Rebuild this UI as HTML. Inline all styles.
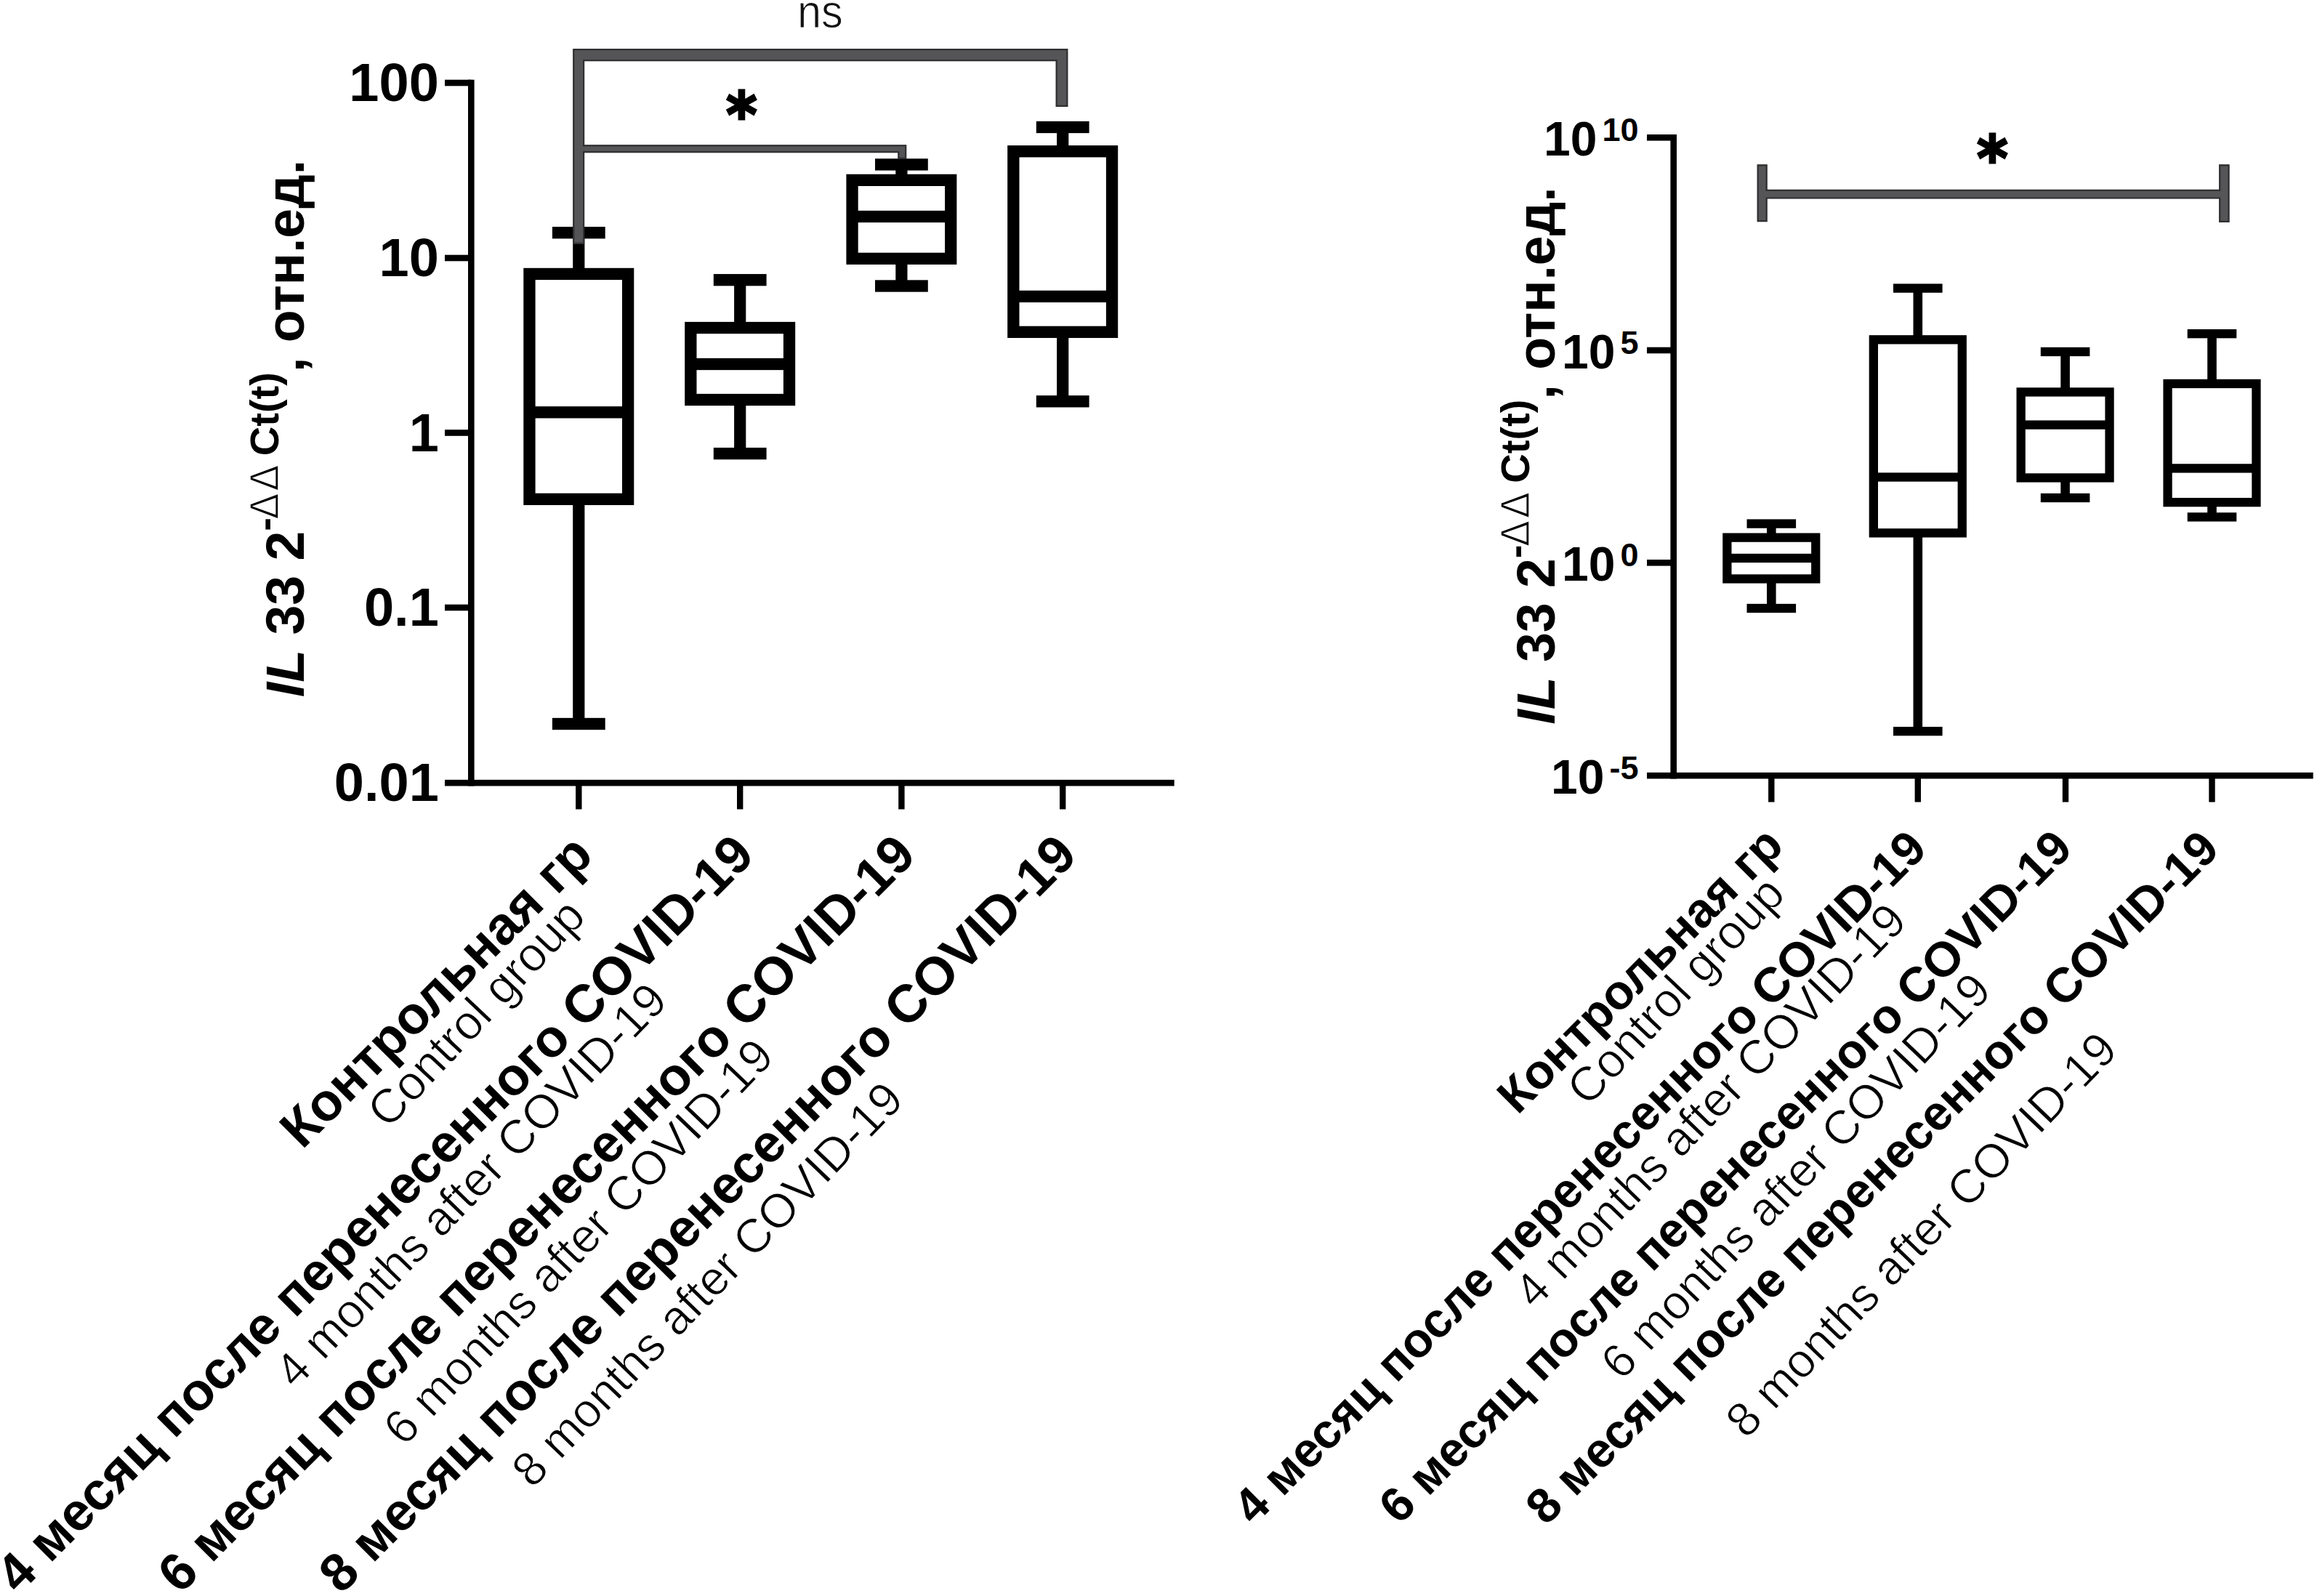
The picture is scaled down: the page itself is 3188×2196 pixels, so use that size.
<!DOCTYPE html>
<html lang="ru"><head><meta charset="utf-8"><title>IL 33 box plots</title>
<style>html,body{margin:0;padding:0;background:#fff}svg{display:block}</style></head>
<body>
<svg xmlns="http://www.w3.org/2000/svg" width="3188" height="2196" viewBox="0 0 3188 2196" font-family='"Liberation Sans", sans-serif'>
<rect width="3188" height="2196" fill="#fff"/>
<rect x="644.00" y="109.70" width="8.60" height="971.80" fill="#000"/>
<rect x="612.00" y="1072.90" width="1003.70" height="8.60" fill="#000"/>
<rect x="612.00" y="109.70" width="36.30" height="8.60" fill="#000"/>
<rect x="612.00" y="350.70" width="36.30" height="8.60" fill="#000"/>
<rect x="612.00" y="591.20" width="36.30" height="8.60" fill="#000"/>
<rect x="612.00" y="831.70" width="36.30" height="8.60" fill="#000"/>
<rect x="792.10" y="1077.20" width="8.40" height="36.30" fill="#000"/>
<rect x="1014.00" y="1077.20" width="8.40" height="36.30" fill="#000"/>
<rect x="1236.20" y="1077.20" width="8.40" height="36.30" fill="#000"/>
<rect x="1458.00" y="1077.20" width="8.40" height="36.30" fill="#000"/>
<text x="603.8" y="139.00" font-size="74" font-weight="bold" text-anchor="end">100</text>
<text x="603.8" y="380.00" font-size="74" font-weight="bold" text-anchor="end">10</text>
<text x="603.8" y="620.50" font-size="74" font-weight="bold" text-anchor="end">1</text>
<text x="603.8" y="861.00" font-size="74" font-weight="bold" text-anchor="end">0.1</text>
<text x="603.8" y="1102.20" font-size="74" font-weight="bold" text-anchor="end">0.01</text>
<rect x="788.20" y="320.20" width="16.20" height="56.75" fill="#000"/>
<rect x="788.20" y="686.85" width="16.20" height="309.15" fill="#000"/>
<rect x="759.90" y="312.05" width="72.80" height="16.30" fill="#000"/>
<rect x="759.90" y="987.85" width="72.80" height="16.30" fill="#000"/>
<rect x="728.45" y="376.95" width="135.70" height="309.90" fill="#fff" stroke="#000" stroke-width="16.3"/>
<rect x="728.45" y="559.15" width="135.70" height="16.30" fill="#000"/>
<rect x="1010.10" y="385.20" width="16.20" height="65.85" fill="#000"/>
<rect x="1010.10" y="550.05" width="16.20" height="74.05" fill="#000"/>
<rect x="981.80" y="377.05" width="72.80" height="16.30" fill="#000"/>
<rect x="981.80" y="615.95" width="72.80" height="16.30" fill="#000"/>
<rect x="950.35" y="451.05" width="135.70" height="99.00" fill="#fff" stroke="#000" stroke-width="16.3"/>
<rect x="950.35" y="492.85" width="135.70" height="16.30" fill="#000"/>
<rect x="1232.30" y="226.40" width="16.20" height="21.45" fill="#000"/>
<rect x="1232.30" y="355.85" width="16.20" height="37.65" fill="#000"/>
<rect x="1204.00" y="218.25" width="72.80" height="16.30" fill="#000"/>
<rect x="1204.00" y="385.35" width="72.80" height="16.30" fill="#000"/>
<rect x="1172.55" y="247.85" width="135.70" height="108.00" fill="#fff" stroke="#000" stroke-width="16.3"/>
<rect x="1172.55" y="289.85" width="135.70" height="16.30" fill="#000"/>
<rect x="1454.10" y="175.00" width="16.20" height="33.25" fill="#000"/>
<rect x="1454.10" y="456.85" width="16.20" height="95.45" fill="#000"/>
<rect x="1425.80" y="166.85" width="72.80" height="16.30" fill="#000"/>
<rect x="1425.80" y="544.15" width="72.80" height="16.30" fill="#000"/>
<rect x="1394.35" y="208.25" width="135.70" height="248.60" fill="#fff" stroke="#000" stroke-width="16.3"/>
<rect x="1394.35" y="399.75" width="135.70" height="16.30" fill="#000"/>
<clipPath id="gl"><path d="M788.20,67.00 L1469.40,67.00 L1469.40,147.00 L1452.60,147.00 L1452.60,84.20 L804.20,84.20 L804.20,199.30 L1247.30,199.30 L1247.30,219.00 L1235.30,219.00 L1235.30,210.30 L804.20,210.30 L804.20,336.00 L788.20,336.00 Z"/></clipPath>
<path d="M788.20,67.00 L1469.40,67.00 L1469.40,147.00 L1452.60,147.00 L1452.60,84.20 L804.20,84.20 L804.20,199.30 L1247.30,199.30 L1247.30,219.00 L1235.30,219.00 L1235.30,210.30 L804.20,210.30 L804.20,336.00 L788.20,336.00 Z" fill="#555557" stroke="#303032" stroke-width="4.4" clip-path="url(#gl)"/>
<text transform="translate(1128.4,37.9) scale(0.93,1)" font-size="64" text-anchor="middle" fill="#111" stroke="#fff" stroke-width="1.0" paint-order="fill stroke">ns</text>
<text transform="translate(1020.5,187.6) scale(0.94,1)" font-size="86" font-weight="bold" text-anchor="middle" font-family='"DejaVu Sans", "Liberation Sans", sans-serif' stroke="#000" stroke-width="3.2" stroke-linejoin="miter">*</text>
<rect x="2298.40" y="185.00" width="8.60" height="886.50" fill="#000"/>
<rect x="2266.00" y="1062.90" width="916.70" height="8.60" fill="#000"/>
<rect x="2266.00" y="185.00" width="36.70" height="8.60" fill="#000"/>
<rect x="2266.00" y="477.70" width="36.70" height="8.60" fill="#000"/>
<rect x="2266.00" y="770.00" width="36.70" height="8.60" fill="#000"/>
<rect x="2433.10" y="1067.20" width="8.40" height="36.40" fill="#000"/>
<rect x="2634.60" y="1067.20" width="8.40" height="36.40" fill="#000"/>
<rect x="2837.80" y="1067.20" width="8.40" height="36.40" fill="#000"/>
<rect x="3039.30" y="1067.20" width="8.40" height="36.40" fill="#000"/>
<text x="2254.5" y="214.10" font-size="66" font-weight="bold" text-anchor="end">10<tspan font-size="45" dy="-20" dx="7">10</tspan></text>
<text x="2254.5" y="506.80" font-size="66" font-weight="bold" text-anchor="end">10<tspan font-size="45" dy="-20" dx="7">5</tspan></text>
<text x="2254.5" y="799.10" font-size="66" font-weight="bold" text-anchor="end">10<tspan font-size="45" dy="-20" dx="7">0</tspan></text>
<text x="2254.5" y="1092.00" font-size="66" font-weight="bold" text-anchor="end">10<tspan font-size="45" dy="-20" dx="7">-5</tspan></text>
<rect x="2431.00" y="720.60" width="12.60" height="19.05" fill="#000"/>
<rect x="2431.00" y="796.45" width="12.60" height="40.55" fill="#000"/>
<rect x="2403.50" y="714.45" width="67.60" height="12.30" fill="#000"/>
<rect x="2403.50" y="830.85" width="67.60" height="12.30" fill="#000"/>
<rect x="2376.35" y="739.65" width="121.90" height="56.80" fill="#fff" stroke="#000" stroke-width="12.3"/>
<rect x="2376.35" y="761.85" width="121.90" height="12.30" fill="#000"/>
<rect x="2632.50" y="396.60" width="12.60" height="70.75" fill="#000"/>
<rect x="2632.50" y="733.35" width="12.60" height="272.85" fill="#000"/>
<rect x="2605.00" y="390.45" width="67.60" height="12.30" fill="#000"/>
<rect x="2605.00" y="1000.05" width="67.60" height="12.30" fill="#000"/>
<rect x="2577.85" y="467.35" width="121.90" height="266.00" fill="#fff" stroke="#000" stroke-width="12.3"/>
<rect x="2577.85" y="650.35" width="121.90" height="12.30" fill="#000"/>
<rect x="2835.30" y="484.00" width="12.60" height="55.45" fill="#000"/>
<rect x="2835.30" y="657.45" width="12.60" height="27.55" fill="#000"/>
<rect x="2807.80" y="477.85" width="67.60" height="12.30" fill="#000"/>
<rect x="2807.80" y="678.85" width="67.60" height="12.30" fill="#000"/>
<rect x="2780.65" y="539.45" width="121.90" height="118.00" fill="#fff" stroke="#000" stroke-width="12.3"/>
<rect x="2780.65" y="578.45" width="121.90" height="12.30" fill="#000"/>
<rect x="3037.20" y="459.20" width="12.60" height="68.75" fill="#000"/>
<rect x="3037.20" y="691.15" width="12.60" height="20.25" fill="#000"/>
<rect x="3009.70" y="453.05" width="67.60" height="12.30" fill="#000"/>
<rect x="3009.70" y="705.25" width="67.60" height="12.30" fill="#000"/>
<rect x="2982.55" y="527.95" width="121.90" height="163.20" fill="#fff" stroke="#000" stroke-width="12.3"/>
<rect x="2982.55" y="638.25" width="121.90" height="12.30" fill="#000"/>
<clipPath id="gr"><path d="M2417.60,226.20 L2431.70,226.20 L2431.70,260.70 L3053.10,260.70 L3053.10,226.20 L3067.60,226.20 L3067.60,306.00 L3053.10,306.00 L3053.10,273.60 L2431.70,273.60 L2431.70,305.20 L2417.60,305.20 Z"/></clipPath>
<path d="M2417.60,226.20 L2431.70,226.20 L2431.70,260.70 L3053.10,260.70 L3053.10,226.20 L3067.60,226.20 L3067.60,306.00 L3053.10,306.00 L3053.10,273.60 L2431.70,273.60 L2431.70,305.20 L2417.60,305.20 Z" fill="#555557" stroke="#303032" stroke-width="4.4" clip-path="url(#gr)"/>
<text transform="translate(2741.3,247.6) scale(0.94,1)" font-size="86" font-weight="bold" text-anchor="middle" font-family='"DejaVu Sans", "Liberation Sans", sans-serif' stroke="#000" stroke-width="3.2" stroke-linejoin="miter">*</text>
<text transform="translate(418,589.5) rotate(-90)" font-size="73.4" font-weight="bold" text-anchor="middle"><tspan font-style="italic">IL</tspan> 33 2<tspan font-size="56" dy="-35">-</tspan><tspan font-size="52.5" font-weight="normal" font-family='"DejaVu Sans", "Liberation Sans", sans-serif' stroke-width="1.5" stroke="#fff" dx="-2.5" letter-spacing="3">ΔΔ</tspan><tspan font-size="56" dx="-6.0"> Ct(t)</tspan><tspan dy="35">, отн.ед.</tspan></text>
<text transform="translate(2138.6,627) rotate(-90)" font-size="73.4" font-weight="bold" text-anchor="middle"><tspan font-style="italic">IL</tspan> 33 2<tspan font-size="56" dy="-35">-</tspan><tspan font-size="52.5" font-weight="normal" font-family='"DejaVu Sans", "Liberation Sans", sans-serif' stroke-width="1.5" stroke="#fff" dx="-2.5" letter-spacing="3">ΔΔ</tspan><tspan font-size="56" dx="-6.0"> Ct(t)</tspan><tspan dy="35">, отн.ед.</tspan></text>
<text transform="translate(819.00,1179.60) rotate(-45)" font-size="73" font-weight="bold" text-anchor="end">Контрольная гр</text>
<text transform="translate(808.40,1263.10) rotate(-46.8)" font-size="66.1" text-anchor="end" stroke="#fff" stroke-width="1.0" paint-order="fill stroke">Control group</text>
<text transform="translate(1040.90,1179.60) rotate(-45)" font-size="73" font-weight="bold" text-anchor="end">4 месяц после перенесенного COVID-19</text>
<text transform="translate(921.40,1379.55) rotate(-46.0)" font-size="65.7" text-anchor="end" stroke="#fff" stroke-width="1.0" paint-order="fill stroke">4 months after COVID-19</text>
<text transform="translate(1263.10,1179.60) rotate(-45)" font-size="73" font-weight="bold" text-anchor="end">6 месяц после перенесенного COVID-19</text>
<text transform="translate(1068.10,1456.00) rotate(-46.3)" font-size="65.7" text-anchor="end" stroke="#fff" stroke-width="1.0" paint-order="fill stroke">6 months after COVID-19</text>
<text transform="translate(1484.90,1179.60) rotate(-45)" font-size="73" font-weight="bold" text-anchor="end">8 месяц после перенесенного COVID-19</text>
<text transform="translate(1246.30,1515.55) rotate(-46.1)" font-size="65.7" text-anchor="end" stroke="#fff" stroke-width="1.0" paint-order="fill stroke">8 months after COVID-19</text>
<text transform="translate(2456.80,1166.25) rotate(-45)" font-size="66.8" font-weight="bold" text-anchor="end">Контрольная гр</text>
<text transform="translate(2458.80,1232.45) rotate(-46.8)" font-size="66.1" text-anchor="end" stroke="#fff" stroke-width="1.0" paint-order="fill stroke">Control group</text>
<text transform="translate(2654.30,1171.00) rotate(-45)" font-size="66.8" font-weight="bold" text-anchor="end">4 месяц после перенесенного COVID-19</text>
<text transform="translate(2626.65,1269.90) rotate(-46.0)" font-size="65.7" text-anchor="end" stroke="#fff" stroke-width="1.0" paint-order="fill stroke">4 months after COVID-19</text>
<text transform="translate(2854.45,1170.40) rotate(-45)" font-size="66.8" font-weight="bold" text-anchor="end">6 месяц после перенесенного COVID-19</text>
<text transform="translate(2743.05,1365.35) rotate(-46.3)" font-size="65.7" text-anchor="end" stroke="#fff" stroke-width="1.0" paint-order="fill stroke">6 months after COVID-19</text>
<text transform="translate(3056.50,1171.25) rotate(-45)" font-size="66.8" font-weight="bold" text-anchor="end">8 месяц после перенесенного COVID-19</text>
<text transform="translate(2916.55,1447.15) rotate(-46.1)" font-size="65.7" text-anchor="end" stroke="#fff" stroke-width="1.0" paint-order="fill stroke">8 months after COVID-19</text>
</svg>
</body></html>
